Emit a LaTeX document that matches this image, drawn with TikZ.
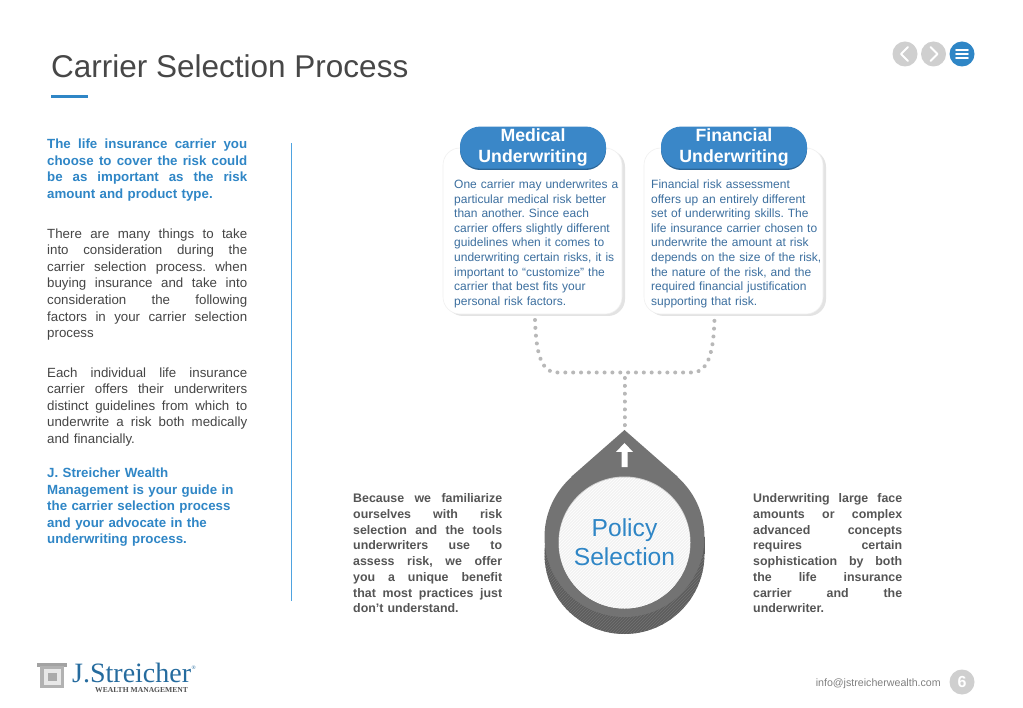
\documentclass[tikz,border=0pt]{standalone}
\usepackage{fontspec}
\setmainfont{Liberation Sans}
\newfontfamily\serifface{Liberation Serif}
\usetikzlibrary{patterns}
\definecolor{brandblue}{HTML}{2F86C6}
\definecolor{linkblue}{HTML}{4FA3E0}
\definecolor{pillblue}{HTML}{3A87C8}
\definecolor{bodygrey}{HTML}{454545}
\definecolor{sidegrey}{HTML}{555555}
\definecolor{cardtext}{HTML}{3C6F9F}
\definecolor{navgrey}{HTML}{CFCFCF}
\definecolor{dotgrey}{HTML}{B8B8B8}
\definecolor{dropgrey}{HTML}{737373}
\definecolor{dropdark}{HTML}{5E5E5E}
\frenchspacing
\newcommand{\J}[1]{{\spaceskip=.278em plus 1fil\hbox to \hsize{\strut #1}}\par}
\newcommand{\E}[1]{\mbox{\strut #1}\par}
\tikzset{
  para/.style={anchor=north west,inner sep=0pt,text width=200pt,font=\fontsize{13.3}{16.55}\selectfont,text=bodygrey},
  parablue/.style={para,text=brandblue,font=\fontsize{13.3}{16.55}\selectfont\bfseries},
  sidepara/.style={anchor=north west,inner sep=0pt,text width=149pt,font=\fontsize{12.4}{15.75}\selectfont\bfseries,text=sidegrey},
  cardpara/.style={anchor=north west,inner sep=0pt,text width=172pt,font=\fontsize{12}{14.6}\selectfont,text=cardtext},
  cardbox/.style={minimum width=179pt,minimum height=166pt,inner sep=0pt,rounded corners=17pt,fill=white,draw=black!6,line width=.6pt},
  cardshade/.style={minimum width=179pt,minimum height=166pt,inner sep=0pt,rounded corners=17pt,fill=black!11},
  pill/.style={minimum width=146pt,minimum height=42pt,inner sep=0pt,rounded corners=20pt,fill=pillblue,text=white,align=center,font=\fontsize{17.7}{21}\selectfont\bfseries},
  pillshade/.style={minimum width=146pt,minimum height=42pt,inner sep=0pt,rounded corners=20pt,fill=pillblue!75!black},
  dots/.style={dotgrey,line width=4pt,line cap=round,dash pattern=on 0.02pt off 7.83pt},
  navbtn/.style={circle,minimum size=25pt,inner sep=0pt,fill=navgrey},
  navmark/.style={white,line width=2pt,line cap=round,line join=round},
  bar/.style={white,line width=1.7pt,line cap=round}
}
\begin{document}
\begin{tikzpicture}[x=1pt,y=-1pt]
\useasboundingbox (0,0) rectangle (1023,708);
\fill[white] (0,0) rectangle (1023,708);
% header
\node[anchor=base west,inner sep=0pt,text=black!72,font=\fontsize{31.5}{36}\selectfont] (title) at (51,78) {Carrier Selection Process};
\fill[brandblue] (51,95.5) rectangle (87.5,98.5);
\node[navbtn] (prev) at (905,54) {};
\node[navbtn] (next) at (933.5,54) {};
\node[navbtn,fill=brandblue] (menu) at (962,54) {};
\draw[navmark] ([shift={(3,-7)}]prev.center) -- ([shift={(-4,0)}]prev.center) -- ([shift={(3,7)}]prev.center);
\draw[navmark] ([shift={(-3,-7)}]next.center) -- ([shift={(4,0)}]next.center) -- ([shift={(-3,7)}]next.center);
\foreach \d in {-4,0,4}\draw[bar] ([shift={(-6,\d)}]menu.center) -- ([shift={(6,\d)}]menu.center);
% left column
\node[parablue] (p1) at (47,137) {\J{The life insurance carrier you}\J{choose to cover the risk could}\J{be as important as the risk}\E{amount and product type.}};
\node[para] (p2) at (47,226.5) {\J{There are many things to take}\J{into consideration during the}\J{carrier selection process. when}\J{buying insurance and take into}\J{consideration the following}\J{factors in your carrier selection}\E{process}};
\node[para] (p3) at (47,365.5) {\J{Each individual life insurance}\J{carrier offers their underwriters}\J{distinct guidelines from which to}\J{underwrite a risk both medically}\E{and financially.}};
\node[parablue] (p4) at (47,466) {\E{J. Streicher Wealth}\E{Management is your guide in}\E{the carrier selection process}\E{and your advocate in the}\E{underwriting process.}};
\fill[linkblue] (290.6,143) rectangle (291.8,601);
% cards
\node[cardshade] at (535.5,233) {};
\node[cardshade] at (736.5,233) {};
\node[cardbox] (med) at (532.5,231) {};
\node[cardbox] (fin) at (733.5,231) {};
\node[pillshade] at (533,149) {};
\node[pillshade] at (734,149) {};
\node[pill] (medp) at (533,147.6) {Medical\\Underwriting};
\node[pill] (finp) at (734,147.6) {Financial\\Underwriting};
\node[cardpara] (medt) at (454,178) {\E{One carrier may underwrites a}\E{particular medical risk better}\E{than another. Since each}\E{carrier offers slightly different}\E{guidelines when it comes to}\E{underwriting certain risks, it is}\E{important to “customize” the}\E{carrier that best fits your}\E{personal risk factors.}};
\node[cardpara] (fint) at (651,178) {\E{Financial risk assessment}\E{offers up an entirely different}\E{set of underwriting skills. The}\E{life insurance carrier chosen to}\E{underwrite the amount at risk}\E{depends on the size of the risk,}\E{the nature of the risk, and the}\E{required financial justification}\E{supporting that risk.}};
% drop
\coordinate (tip) at (624.5,430);
\coordinate (dc) at (624.5,537);
\begin{scope}
  \clip (624.5,554) circle (80pt);
  \fill[dropdark] (540,530) rectangle (710,640);
  \path[pattern=north east lines,pattern color=dropgrey] (540,530) rectangle (710,640);
\end{scope}
\fill[dropdark] (544.5,537) rectangle (704.5,554);
\fill[dropgrey] (tip) -- (571,477) -- (678,477) -- cycle;
\fill[dropgrey] (dc) circle (80pt);
\coordinate (ic) at (624.5,542.5);
\fill[black!18] (ic) circle (66pt);
\fill[black!5] (624.5,543) circle (65.5pt);
\path[pattern=north east lines,pattern color=white] (624.5,543) circle (65.5pt);
\node[inner sep=0pt,align=center,text=brandblue,font=\fontsize{24.6}{29.3}\selectfont] (policy) at (624.5,542.5) {Policy\\Selection};
\fill[white] (621.5,467) -- (621.5,452) -- (616,452) -- (624.5,443) -- (633,452) -- (627.5,452) -- (627.5,467) -- cycle;
% connectors
\coordinate (ml) at (535,320);
\coordinate (mr) at (714.5,320);
\draw[dots] (ml) .. controls (536,350) and (540,372.5) .. (557,372.5) -- (692,372.5) .. controls (709,372.5) and (713.5,350) .. (mr);
\draw[dots] (624.5,378) -- (tip);
% side text
\node[sidepara] (sl) at (353,491.5) {\J{Because we familiarize}\J{ourselves with risk}\J{selection and the tools}\J{underwriters use to}\J{assess risk, we offer}\J{you a unique benefit}\J{that most practices just}\E{don’t understand.}};
\node[sidepara] (sr) at (753,491.5) {\J{Underwriting large face}\J{amounts or complex}\J{advanced concepts}\J{requires certain}\J{sophistication by both}\J{the life insurance}\J{carrier and the}\E{underwriter.}};
% footer logo
\fill[black!36] (37,663) rectangle (67,666.5);
\fill[black!30] (40,666) rectangle (64,688);
\fill[black!9] (44,668.5) rectangle (60.5,685);
\fill[black!33] (47.5,672.5) rectangle (56.5,681);
\node[anchor=base west,inner sep=0pt,text=brandblue!80!black,font=\serifface\fontsize{28}{30}\selectfont] (logo) at (72,682) {J.Streicher};
\node[anchor=base west,inner sep=0pt,text=brandblue!80!black,font=\serifface\fontsize{5.5}{7}\selectfont] (reg) at (191.5,669) {®};
\node[anchor=base west,inner sep=0pt,text=black!68,font=\serifface\fontsize{7.6}{9}\selectfont\bfseries] (wm) at (95,692) {WEALTH MANAGEMENT};
% footer right
\node[anchor=base east,inner sep=0pt,text=black!50,font=\fontsize{10.65}{13}\selectfont] (mail) at (941,686) {info@jstreicherwealth.com};
\node[navbtn,text=white,font=\fontsize{16}{18}\selectfont\bfseries] (pg) at (962,682) {6};
\end{tikzpicture}
\end{document}
